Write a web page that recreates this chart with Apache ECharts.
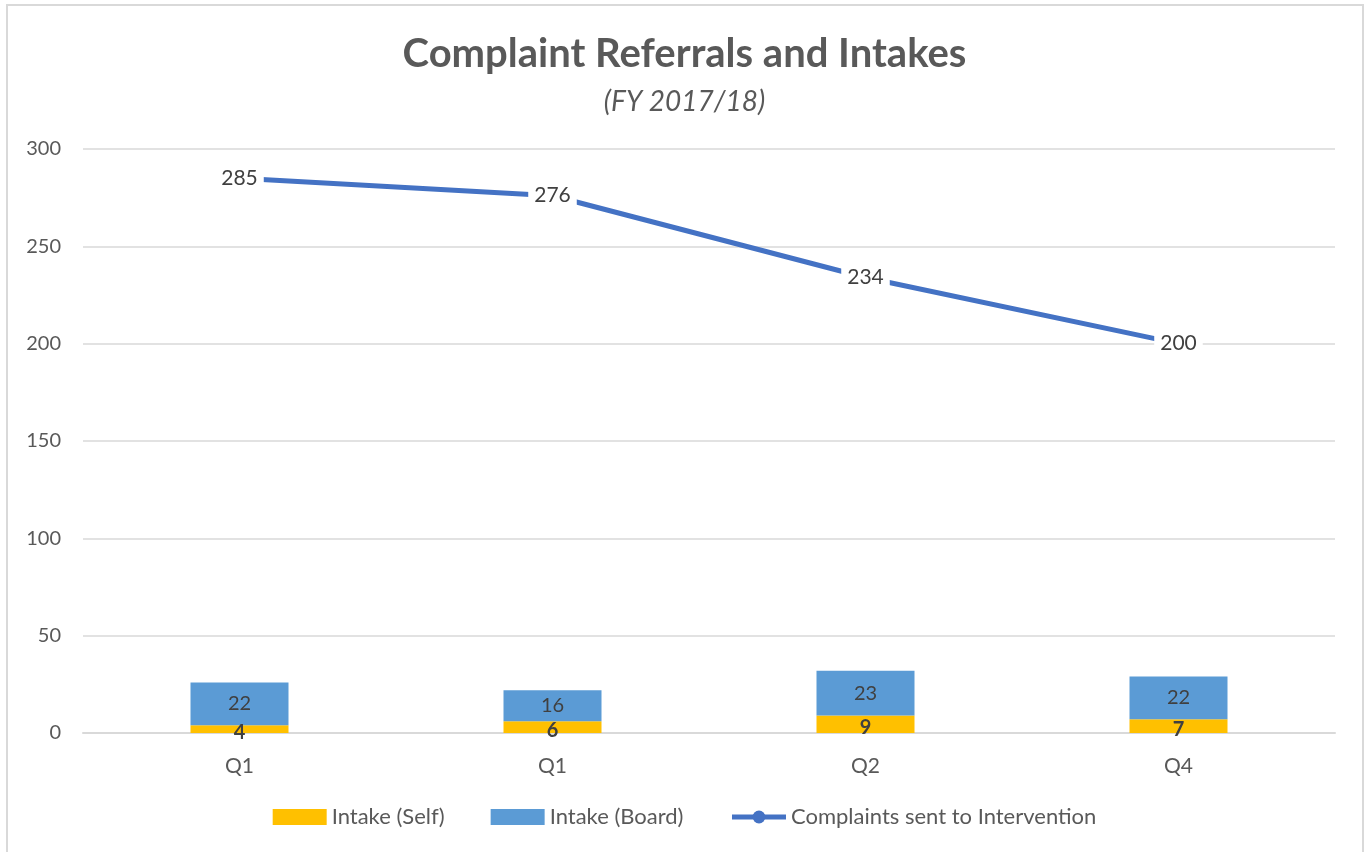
<!DOCTYPE html>
<html>
<head>
<meta charset="utf-8">
<script src="https://cdn.jsdelivr.net/npm/echarts@6/dist/echarts.min.js"></script>
<style>
html,body{margin:0;padding:0;background:#fff;}
#chart{width:1369px;height:852px;}
</style>
</head>
<body>
<div id="chart"></div>
<script>
const categories = ['Q1', 'Q1', 'Q2', 'Q4'];
const intakeSelf = [4, 6, 9, 7];
const intakeBoard = [22, 16, 23, 22];
const complaintsSent = [285, 276, 234, 200];
const yTicks = { min: 0, max: 300, interval: 50 };

const FONT = 'Lato';
const chart = echarts.init(document.getElementById('chart'), null, { renderer: 'canvas' });
chart.setOption({
  backgroundColor: '#ffffff',
  animation: false,
  textStyle: { fontFamily: FONT },
  graphic: [{
    type: 'rect', silent: true, z: -10,
    shape: { x: 7, y: 5, width: 1356, height: 900 },
    style: { fill: 'none', stroke: '#d9d9d9', lineWidth: 2 }
  }],
  title: [{
    text: 'Complaint Referrals and Intakes',
    left: 'center', top: 29,
    textStyle: { fontFamily: FONT, fontSize: 40, fontWeight: 'bold', color: '#595959' }
  }, {
    text: '(FY 2017/18)',
    left: 'center', top: 83,
    textStyle: { fontFamily: FONT, fontSize: 28, fontStyle: 'italic', fontWeight: 'normal', color: '#595959' }
  }],
  grid: { left: 83, right: 34, top: 149, bottom: 119, containLabel: false },
  legend: {
    bottom: 19, left: 'center',
    itemWidth: 54, itemHeight: 16, itemGap: 46,
    textStyle: { fontFamily: FONT, fontSize: 22, color: '#595959' },
    lineStyle: { width: 5 },
    data: [
      { name: 'Intake (Self)', icon: 'rect' },
      { name: 'Intake (Board)', icon: 'rect' },
      { name: 'Complaints sent to Intervention' }
    ]
  },
  xAxis: {
    type: 'category',
    data: categories,
    axisLine: { lineStyle: { color: '#d9d9d9', width: 2 } },
    axisTick: { show: false },
    axisLabel: { fontFamily: FONT, fontSize: 21, color: '#595959', margin: 23 }
  },
  yAxis: {
    type: 'value',
    min: yTicks.min, max: yTicks.max, interval: yTicks.interval,
    axisLine: { show: false },
    axisTick: { show: false },
    axisLabel: { fontFamily: FONT, fontSize: 20, color: '#595959', margin: 22 },
    splitLine: { lineStyle: { color: '#d9d9d9', width: 1.5 } }
  },
  series: [{
    name: 'Intake (Self)',
    type: 'bar', stack: 'intake',
    data: intakeSelf,
    barWidth: 98,
    itemStyle: { color: '#FFC000' },
    label: { show: true, position: 'inside', fontFamily: FONT, fontSize: 20, fontWeight: 'bold', color: '#404040', offset: [0, 3] }
  }, {
    name: 'Intake (Board)',
    type: 'bar', stack: 'intake',
    data: intakeBoard,
    barWidth: 98,
    itemStyle: { color: '#5B9BD5' },
    label: { show: true, position: 'inside', fontFamily: FONT, fontSize: 20, color: '#404040' }
  }, {
    name: 'Complaints sent to Intervention',
    type: 'line',
    data: complaintsSent,
    symbol: 'circle', symbolSize: 4,
    itemStyle: { color: '#4472C4' },
    lineStyle: { color: '#4472C4', width: 5 },
    label: {
      show: true, position: 'inside', fontFamily: FONT, fontSize: 21, color: '#404040',
      backgroundColor: '#ffffff', padding: [3, 6]
    },
    z: 5
  }]
});
</script>
</body>
</html>
